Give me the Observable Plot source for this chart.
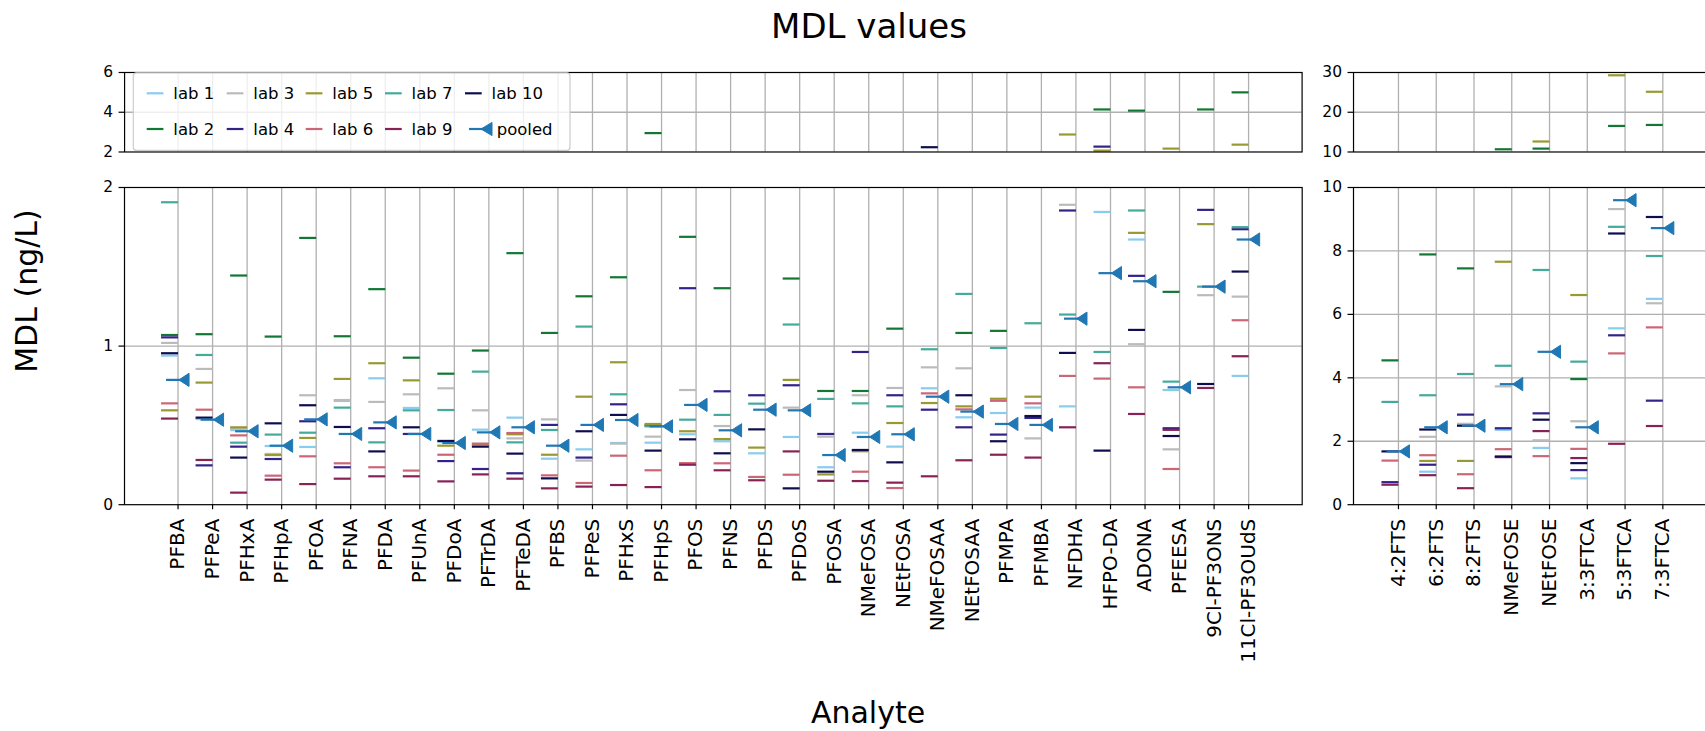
<!DOCTYPE html>
<html><head><meta charset="utf-8">
<script src="https://cdn.jsdelivr.net/npm/d3@7"></script>
<script src="https://cdn.jsdelivr.net/npm/@observablehq/plot@0.6"></script>
<style>
html,body{margin:0;padding:0;background:#fff;overflow:hidden;}
#fig{position:relative;width:1705px;height:731px;overflow:hidden;font-family:"DejaVu Sans",sans-serif;}
#fig > svg{position:absolute;margin:0;}
</style></head><body><div id="fig"></div>
<script>
const analytesLeft = ["PFBA","PFPeA","PFHxA","PFHpA","PFOA","PFNA","PFDA","PFUnA","PFDoA","PFTrDA","PFTeDA","PFBS","PFPeS","PFHxS","PFHpS","PFOS","PFNS","PFDS","PFDoS","PFOSA","NMeFOSA","NEtFOSA","NMeFOSAA","NEtFOSAA","PFMPA","PFMBA","NFDHA","HFPO-DA","ADONA","PFEESA","9Cl-PF3ONS","11Cl-PF3OUdS"];
const analytesRight = ["4:2FTS","6:2FTS","8:2FTS","NMeFOSE","NEtFOSE","3:3FTCA","5:3FTCA","7:3FTCA"];
const labs = ["lab 1","lab 2","lab 3","lab 4","lab 5","lab 6","lab 7","lab 9","lab 10"];
const labColors = ["#88CCEE","#117733","#BBBBBB","#332288","#999933","#CC6677","#44AA99","#882255","#0E0E4E"];
const pooledColor = "#1f77b4";

const lab1 = [0.94,0.54,0.47,0.37,0.364,0.654,0.797,0.61,0.395,0.473,0.549,0.29,0.349,0.389,0.391,0.444,0.40,0.324,0.427,0.236,0.454,0.366,0.734,0.551,0.578,0.612,0.62,1.846,1.672,0.723,null,0.812,
  null,1.04,null,2.36,1.79,0.83,5.56,6.49];
const lab2 = [1.07,1.075,1.445,1.06,1.682,1.062,1.359,0.927,0.826,0.972,1.586,1.083,1.314,1.434,2.95,1.689,1.365,null,1.426,0.717,0.717,1.11,null,1.083,1.096,null,null,4.14,4.08,1.342,4.14,5.0,
  4.55,7.89,7.45,10.68,10.85,3.96,16.55,16.8];
const lab3 = [1.02,0.856,0.48,0.32,0.69,0.66,0.648,0.696,0.734,0.595,0.418,0.538,0.278,0.385,0.429,0.723,0.496,null,0.612,0.429,0.69,0.736,0.866,0.86,null,0.418,1.891,null,1.012,0.349,1.321,1.312,
  null,2.14,2.55,3.73,2.03,2.63,9.32,6.35];
const lab4 = [1.055,0.248,0.366,0.288,0.526,0.236,0.482,0.446,0.275,0.225,0.198,0.503,0.297,0.633,0.50,1.365,0.715,0.69,0.753,0.446,0.963,0.69,0.599,0.488,0.442,0.547,1.855,2.27,1.443,0.482,1.859,1.737,
  0.71,1.26,2.84,2.41,2.88,1.09,5.34,3.28];
const lab5 = [0.595,0.77,0.488,0.313,0.421,0.793,0.892,0.784,0.372,0.38,0.444,0.315,0.681,0.898,0.509,0.463,0.414,0.36,0.787,0.191,0.337,0.515,0.641,0.62,0.668,0.681,2.88,2.07,1.714,2.17,1.769,2.37,
  null,1.38,1.38,7.66,12.64,6.61,29.3,25.15];
const lab6 = [0.639,0.599,0.437,0.183,0.305,0.261,0.236,0.215,0.315,0.385,0.452,0.185,0.137,0.309,0.217,0.262,0.261,0.175,0.189,null,0.208,0.105,0.702,0.601,0.655,0.639,0.812,0.795,0.74,0.225,null,1.163,
  1.39,1.56,0.96,1.75,1.53,1.76,4.77,5.59];
const lab7 = [1.907,0.944,0.391,0.442,0.454,0.612,0.393,0.595,0.597,0.839,0.393,0.471,1.123,0.696,0.494,0.536,0.566,0.637,1.136,0.667,0.639,0.62,0.98,1.329,0.988,1.144,1.199,0.963,1.855,0.776,1.375,1.75,
  3.24,3.45,4.12,4.38,7.40,4.51,8.76,7.84];
const lab9 = [0.543,0.282,0.076,0.158,0.13,0.164,0.179,0.179,0.147,0.191,0.164,0.103,0.114,0.124,0.111,0.252,0.217,0.154,0.336,0.151,0.149,0.139,0.179,0.28,0.315,0.297,0.488,0.892,0.572,0.472,0.736,0.936,
  0.63,0.93,0.52,1.50,2.32,1.47,1.92,2.48];
const lab10 = [0.955,0.549,0.297,0.513,0.627,0.49,0.336,0.488,0.402,0.366,0.322,0.166,0.463,0.566,0.341,0.412,0.324,0.475,0.103,0.208,0.345,0.267,2.24,0.69,0.40,0.559,0.957,0.341,1.102,0.433,0.761,1.47,
  1.68,2.37,2.49,1.52,2.68,1.31,8.55,9.07];
const pooled = [0.787,0.536,0.463,0.372,0.538,0.446,0.519,0.446,0.389,0.456,0.488,0.372,0.503,0.534,0.494,0.629,0.469,0.599,0.595,0.313,0.427,0.444,0.681,0.587,0.509,0.503,1.173,1.46,1.409,0.740,1.375,1.672,
  1.68,2.44,2.49,3.80,4.82,2.44,9.60,8.72];

const labSeries = [lab1, lab2, lab3, lab4, lab5, lab6, lab7, lab9, lab10];
const rows = [];
labSeries.forEach((vals, j) => vals.forEach((v, i) => { if (v != null) rows.push({lab: labs[j], i, v}); }));
const pooledRows = pooled.map((v, i) => ({i, v})).filter(d => d.v != null);

// marker shapes (pixel geometry of the markers)
const hline = {draw(ctx) { ctx.moveTo(-17, 0); ctx.lineTo(0, 0); }};
const pooledLine = {draw(ctx) { ctx.moveTo(-12, 0); ctx.lineTo(2, 0); }};
const triLeft = {draw(ctx) { ctx.moveTo(0.8, 0); ctx.lineTo(11, -6.6); ctx.lineTo(11, 6.6); ctx.closePath(); }};

const fig = document.getElementById("fig");
const gridStyle = {stroke: "#b0b0b0", strokeOpacity: 1, strokeWidth: 1.3};

function panel({left, right, top, bottom, xdomain, ydomain, yticks, gridTicks, offset, cats, showX, ml, mr, mt, mb}) {
  const n = cats.length;
  const keep = d => d.i >= offset && d.i < offset + n && (ydomain[0] > 0 ? d.v >= ydomain[0] : d.v < ydomain[1]);
  const sub = rows.filter(keep).map(d => ({...d, x: d.i - offset}));
  const psub = pooledRows.filter(keep).map(d => ({...d, x: d.i - offset}));
  const svg = Plot.plot({
    width: ml + (right - left) + mr,
    height: mt + (bottom - top) + mb,
    marginLeft: ml, marginRight: mr, marginTop: mt, marginBottom: mb,
    style: {fontFamily: "DejaVu Sans", fontSize: "15.5px", color: "#000", background: "transparent", overflow: "visible"},
    x: {domain: xdomain, axis: null},
    y: {domain: ydomain, axis: null},
    color: {domain: labs, range: labColors},
    marks: [
      Plot.gridX(d3.range(n), gridStyle),
      Plot.gridY(gridTicks, gridStyle),
      Plot.dot(sub, {x: "x", y: "v", symbol: hline, stroke: "lab", fill: "none", strokeWidth: 2.2}),
      Plot.dot(psub, {x: "x", y: "v", symbol: pooledLine, stroke: pooledColor, fill: "none", strokeWidth: 2.2}),
      Plot.dot(psub, {x: "x", y: "v", symbol: triLeft, fill: pooledColor, stroke: pooledColor, strokeWidth: 1, strokeLinejoin: "miter"}),
      Plot.axisY(yticks, {tickSize: 5.5, tickPadding: 6, label: null, fontSize: 15.5, stroke: "#000", strokeWidth: 1.2, tickFormat: d => String(d)}),
      showX ? Plot.axisX(d3.range(n), {tickSize: 5, tickPadding: 9, tickRotate: -90, tickFormat: i => cats[i], label: null, fontSize: 20, strokeWidth: 1.2}) : null,
      Plot.frame({stroke: "#000", strokeWidth: 1.2})
    ]
  });
  svg.style.left = (left - ml) + "px";
  svg.style.top = (top - mt) + "px";
  fig.appendChild(svg);
}

const L = {left: 124, right: 1301.7}, R = {left: 1353.3, right: 1707.6};
const T = {top: 71.7, bottom: 151.2}, B = {top: 187.3, bottom: 504.5};
const xdomL = [-1.55, analytesLeft.length - 1 + 1.55];
const xdomR = [-1.19, analytesRight.length - 1 + 1.19];

panel({...L, ...T, xdomain: xdomL, ydomain: [2, 6], yticks: [2, 4, 6], gridTicks: [4], offset: 0, cats: analytesLeft, showX: false, ml: 70, mr: 2, mt: 10, mb: 10});
panel({...L, ...B, xdomain: xdomL, ydomain: [0, 2], yticks: [0, 1, 2], gridTicks: [1], offset: 0, cats: analytesLeft, showX: true, ml: 70, mr: 2, mt: 10, mb: 226});
panel({...R, ...T, xdomain: xdomR, ydomain: [10, 30], yticks: [10, 20, 30], gridTicks: [20], offset: 32, cats: analytesRight, showX: false, ml: 45, mr: 2, mt: 10, mb: 10});
panel({...R, ...B, xdomain: xdomR, ydomain: [0, 10], yticks: [0, 2, 4, 6, 8, 10], gridTicks: [2, 4, 6, 8], offset: 32, cats: analytesRight, showX: true, ml: 45, mr: 2, mt: 10, mb: 226});

// overlay: titles, labels, legend
const ov = d3.select(fig).append("svg").attr("width", 1705).attr("height", 731)
  .style("left", "0px").style("top", "0px").style("font-family", "DejaVu Sans");
ov.append("text").attr("x", 869).attr("y", 38).attr("text-anchor", "middle").attr("font-size", 34).text("MDL values");
ov.append("text").attr("x", 868).attr("y", 723).attr("text-anchor", "middle").attr("font-size", 30).text("Analyte");
ov.append("text").attr("transform", "translate(37.3,291) rotate(-90)").attr("text-anchor", "middle").attr("font-size", 30).text("MDL (ng/L)");

const lg = ov.append("g");
lg.append("rect").attr("x", 133.3).attr("y", 72.8).attr("width", 436.7).attr("height", 77.5).attr("rx", 3)
  .attr("fill", "#fff").attr("fill-opacity", 0.8).attr("stroke", "#cccccc").attr("stroke-width", 1.2);
const items = labs.map((l, k) => ({label: l, color: labColors[k]})).concat([{label: "pooled", color: pooledColor, pooled: true}]);
const colX = [146.7, 226.7, 305.7, 385, 465], rowY = [93.3, 129];
items.forEach((it, k) => {
  const cx = colX[Math.floor(k / 2)], cy = rowY[k % 2];
  if (it.pooled) {
    lg.append("line").attr("x1", cx + 4).attr("x2", cx + 18).attr("y1", cy).attr("y2", cy).attr("stroke", it.color).attr("stroke-width", 2.2);
    lg.append("path").attr("d", `M${cx + 16},${cy} L${cx + 27},${cy - 6.6} L${cx + 27},${cy + 6.6} Z`).attr("fill", it.color).attr("stroke", it.color);
    lg.append("text").attr("x", cx + 31.7).attr("y", cy).attr("dy", "0.36em").attr("font-size", 16.5).text(it.label);
  } else {
    lg.append("line").attr("x1", cx).attr("x2", cx + 16.7).attr("y1", cy).attr("y2", cy).attr("stroke", it.color).attr("stroke-width", 2.2);
    lg.append("text").attr("x", cx + 26.6).attr("y", cy).attr("dy", "0.36em").attr("font-size", 16.5).text(it.label);
  }
});
</script></body></html>
